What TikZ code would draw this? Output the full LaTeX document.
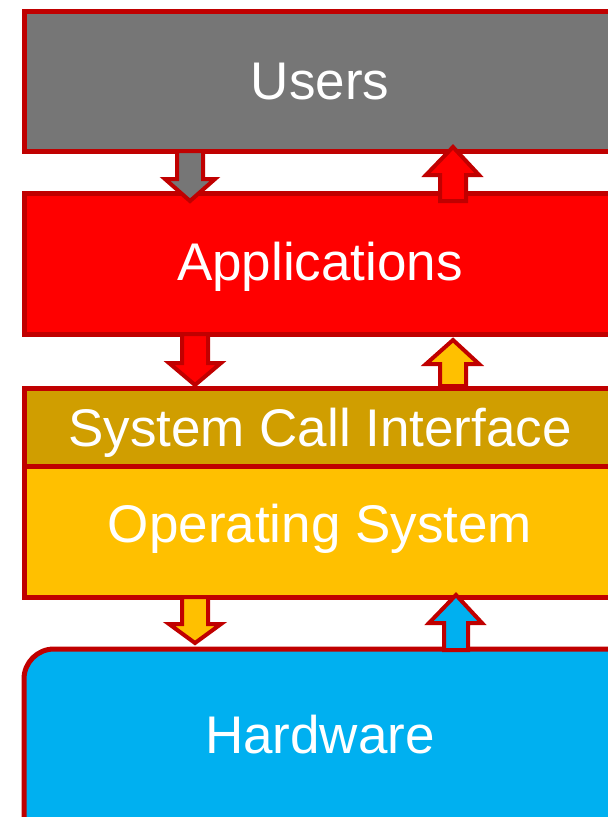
\documentclass[tikz,border=0pt]{standalone}
\usepackage{fontspec}
\setmainfont{Liberation Sans}
\definecolor{bord}{HTML}{C00000}
\definecolor{usr}{HTML}{767676}
\definecolor{app}{HTML}{FF0000}
\definecolor{sci}{HTML}{D09E00}
\definecolor{os}{HTML}{FFC000}
\definecolor{hw}{HTML}{00B0F0}
\begin{document}
\begin{tikzpicture}[x=1pt,y=-1pt,
  layer/.style={draw=bord,line width=5pt},
  lbl/.style={text=white,font=\fontsize{53}{60}\selectfont,inner sep=0pt,anchor=base},
  arr/.style={draw=bord,line width=4pt,line join=miter}]
\useasboundingbox (0,0) rectangle (608,817);
\begin{scope}
\clip (0,0) rectangle (608,817);
\path[layer,fill=usr] (24,11) rectangle (660,151);
\path[layer,fill=app] (24,193) rectangle (660,334);
\path[layer,fill=sci] (24,388) rectangle (660,466);
\path[layer,fill=os] (24,466) rectangle (660,597);
\path[layer,fill=hw,rounded corners=30pt] (24,649) rectangle (660,880);
% arrows
\path[arr,fill=usr] (177,151) -- (203,151) -- (203,179) -- (215,179) -- (190,201) -- (165,179) -- (177,179) -- cycle;
\path[arr,fill=app] (440,201) -- (466,201) -- (466,175) -- (479,175) -- (453,147) -- (426,175) -- (440,175) -- cycle;
\path[arr,fill=app] (182,334) -- (208,334) -- (208,363) -- (221,363) -- (195,385) -- (169,363) -- (182,363) -- cycle;
\path[arr,fill=os] (440,386) -- (466,386) -- (466,364) -- (479,364) -- (453,340) -- (426,364) -- (440,364) -- cycle;
\path[arr,fill=os] (182,597) -- (208,597) -- (208,624) -- (221,624) -- (195,643) -- (169,624) -- (182,624) -- cycle;
\path[arr,fill=hw] (444,650) -- (468,650) -- (468,623) -- (482,623) -- (456,595) -- (429,623) -- (444,623) -- cycle;
\end{scope}
\node[lbl] (tUsers) at (320,99) {Users};
\node[lbl] (tApps) at (320,280) {Applications};
\node[lbl] (tSci) at (320,446) {System Call Interface};
\node[lbl] (tOs) at (320,542) {Operating System};
\node[lbl] (tHw) at (320,753) {Hardware};
\end{tikzpicture}
\end{document}
